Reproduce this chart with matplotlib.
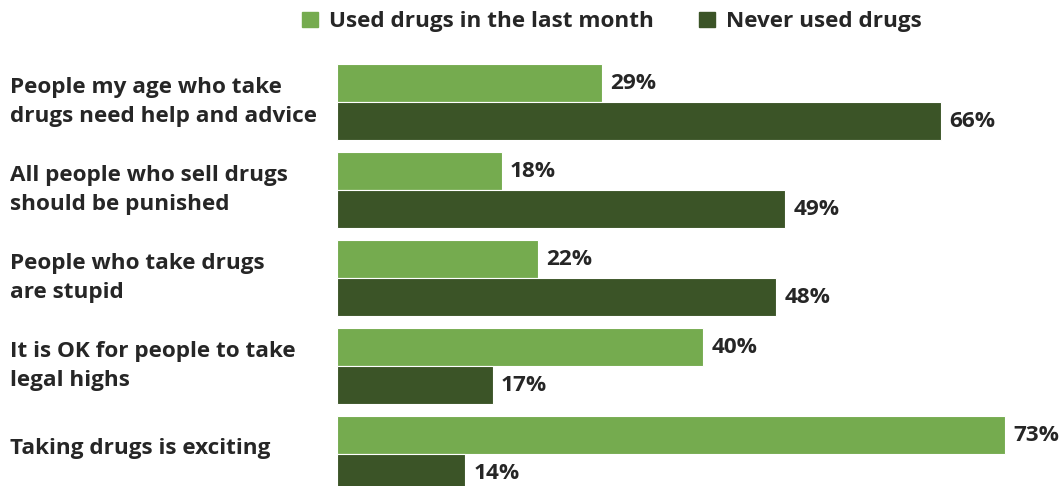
import matplotlib.pyplot as plt
from matplotlib.patches import Patch

plt.rcParams['font.family'] = ['Open Sans', 'DejaVu Sans']

categories = [
    'People my age who take\ndrugs need help and advice',
    'All people who sell drugs\nshould be punished',
    'People who take drugs\nare stupid',
    'It is OK for people to take\nlegal highs',
    'Taking drugs is exciting',
]
used_last_month = [29, 18, 22, 40, 73]
never_used = [66, 49, 48, 17, 14]
series_names = ['Used drugs in the last month', 'Never used drugs']

light = '#75ab4f'
dark = '#3b5427'
txt = '#262626'

W, H = 1064, 486
fig = plt.figure(figsize=(W / 100, H / 100), dpi=100)
left_px = 337
ax = fig.add_axes([left_px / W, 0, (W - left_px) / W, 1])

px_per_pct = 9.15
ax.set_xlim(0, (W - left_px) / px_per_pct)
# group centres every 88 px, first at y=102 px
ax.set_ylim((H - 102) / 88, -102 / 88)

h = 38 / 88
ys = list(range(len(categories)))
ax.barh([y - h / 2 for y in ys], used_last_month, height=h, color=light,
        edgecolor='white', linewidth=0.8)
ax.barh([y + h / 2 for y in ys], never_used, height=h, color=dark,
        edgecolor='white', linewidth=0.8)

fs = 16.2
for y, a, b in zip(ys, used_last_month, never_used):
    ax.text(a + 0.9, y - h / 2, f'{a}%', va='center', ha='left',
            fontsize=fs, fontweight='bold', color=txt, clip_on=False)
    ax.text(b + 0.9, y + h / 2, f'{b}%', va='center', ha='left',
            fontsize=fs, fontweight='bold', color=txt, clip_on=False)
    yc = 102 + 88 * y - (0 if '\n' in categories[y] else 6)
    fig.text(10 / W, 1 - yc / H, categories[y], ha='left',
             va='center', fontsize=fs, fontweight='bold', color=txt,
             linespacing=1.55)

ax.axis('off')

handles = [Patch(color=light), Patch(color=dark)]
fig.legend(handles, series_names, loc='center', ncol=2,
           bbox_to_anchor=(612 / W, 1 - 22 / H), frameon=False,
           prop={'size': fs, 'weight': 'bold'}, labelcolor=txt,
           handlelength=0.7, handleheight=0.7, handletextpad=0.5,
           columnspacing=2.0)

fig.savefig('out.png', dpi=100, facecolor='white')
